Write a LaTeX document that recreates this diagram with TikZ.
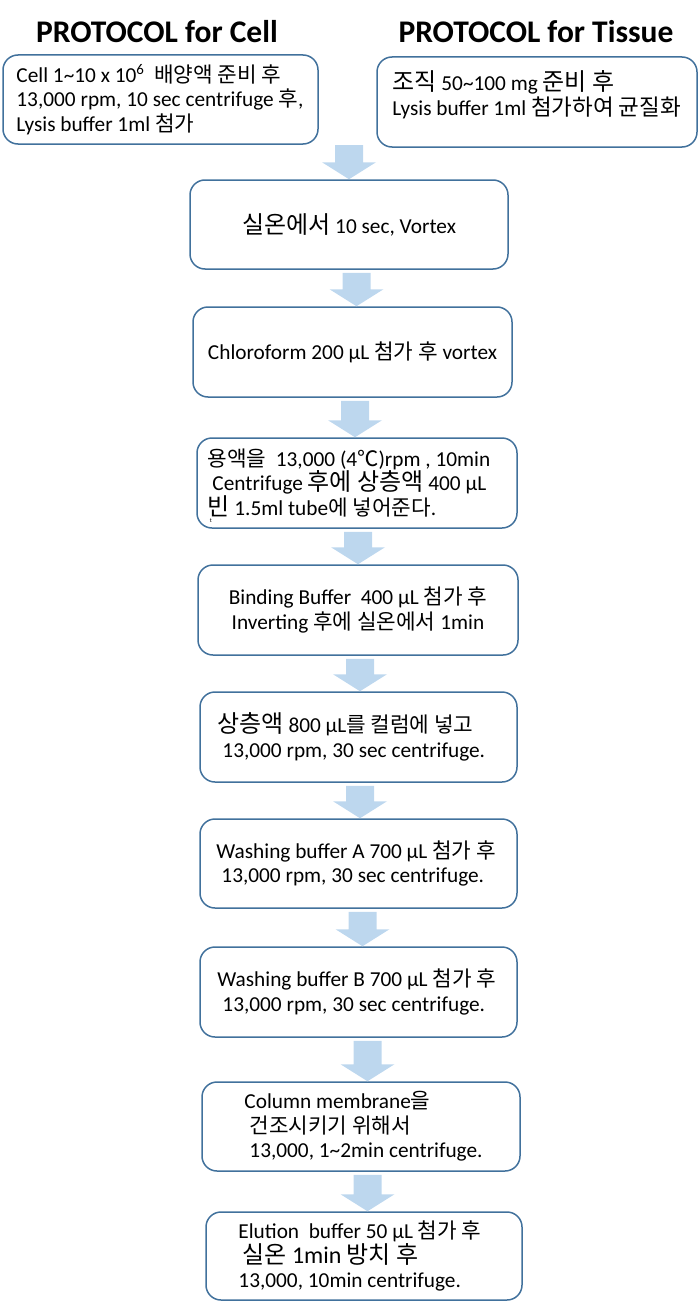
\documentclass[tikz,border=0pt]{standalone}
\usepackage{fontspec}
\setmainfont{Carlito}
\newfontfamily\krfont{Noto Sans CJK KR}[Scale=1.0]
\usetikzlibrary{positioning, calc}

\definecolor{boxblue}{HTML}{41719C}
\definecolor{arrowblue}{HTML}{BDD7EE}
\newcommand{\kor}[1]{{\krfont #1}}
\newcommand{\bigsize}{\fontsize{24}{26}\selectfont}
% block arrow from a point down to a box top
\newcommand{\blockdown}[3]{%
  \fill[flowarrow] let \p1=(#1), \p2=([xshift=#3pt]#2) in
    (\x2-14pt,\y1-3pt) -- (\x2+14pt,\y1-3pt) -- (\x2+14pt,\y2+17pt)
    -- (\x2+27pt,\y2+17pt) -- (\x2,\y2) -- (\x2-27pt,\y2+17pt)
    -- (\x2-14pt,\y2+17pt) -- cycle;}

\tikzset{
  stepbox/.style 2 args={draw=boxblue, line width=1.5pt, rounded corners=15pt,
    fill=white, inner sep=0pt, minimum width=#1pt, minimum height=#2pt},
  steptext/.style={align=left, inner sep=0pt, font=\fontsize{21.3}{24.5}\selectfont},
  titletext/.style={inner sep=0pt, font=\bfseries\fontsize{31.5}{36}\selectfont},
  flowarrow/.style={fill=arrowblue},
}

\begin{document}
\begin{tikzpicture}[x=1pt, y=-1pt]
  \useasboundingbox (0,0) rectangle (700,1303);

  \node[titletext] (celltitle) at (157,32) {PROTOCOL for Cell};
  \node[titletext] (tissuetitle) at (536,32) {PROTOCOL for Tissue};

  \node[stepbox={315}{89}] (cell) at (160.5,99.5) {};
  \node[stepbox={320}{90}] (tissue) at (537,102) {};
  \node[stepbox={318}{89}] (b1) at (349,224.5) {};
  \node[stepbox={319}{90}] (b2) at (352.5,352) {};
  \node[stepbox={320}{90}] (b3) at (357,483) {};
  \node[stepbox={320}{90}] (b4) at (358,610) {};
  \node[stepbox={317}{90}] (b5) at (358.5,737) {};
  \node[stepbox={317}{89}] (b6) at (358.5,863.5) {};
  \node[stepbox={317}{90}] (b7) at (358.5,992) {};
  \node[stepbox={318}{89}] (b8) at (361,1126.5) {};
  \node[stepbox={316}{88}] (b9) at (364,1256) {};

  \node[steptext, right=14pt of cell.west] (celltext)
    {Cell 1\textasciitilde10 x 10\textsuperscript{6}\ \ \kor{배양액 준비 후}\\
     13,000 rpm, 10 sec centrifuge \kor{후},\\
     Lysis buffer 1ml \kor{첨가}};
  \node[steptext, right=16pt of tissue.west, yshift=7.5pt] (tissuetext)
    {{\bigsize\kor{조직}} 50\textasciitilde100 mg {\bigsize\kor{준비 후}}\\
     Lysis buffer 1ml {\fontsize{22.5}{24.5}\selectfont\kor{첨가하여 균질화}}};
  \node[steptext, align=center] (t1) at (b1) {{\bigsize\kor{실온에서}} 10 sec, Vortex};
  \node[steptext, align=center] (t2) at (b2) {Chloroform 200 µL \kor{첨가 후} vortex};
  \node[steptext, right=11pt of b3.west] (t3)
    {\kor{용액을}\ \ 13,000 (4\kor{℃})rpm , 10min\\
     \hspace*{5pt}Centrifuge {\bigsize\kor{후에 상층액}} 400 µL\\
     {\bigsize\kor{빈}} 1.5ml tube\kor{에 넣어준다}.};
  \node[inner sep=0pt, font=\fontsize{6}{6}\selectfont] (t3mark) at (211,521) {t};
  \node[steptext, align=center] (t4) at (b4)
    {Binding Buffer\ \ 400 µL \kor{첨가 후}\\ Inverting \kor{후에 실온에서} 1min};
  \node[steptext, right=18pt of b5.west] (t5)
    {{\bigsize\kor{상층액}} 800 µL\kor{를 컬럼에 넣고}\\
     \hspace*{5pt}13,000 rpm, 30 sec centrifuge.};
  \node[steptext, right=17pt of b6.west] (t6)
    {Washing buffer A 700 µL \kor{첨가 후}\\
     \hspace*{5pt}13,000 rpm, 30 sec centrifuge.};
  \node[steptext, right=18pt of b7.west] (t7)
    {Washing buffer B 700 µL \kor{첨가 후}\\
     \hspace*{5pt}13,000 rpm, 30 sec centrifuge.};
  \node[steptext, right=43pt of b8.west] (t8)
    {Column membrane\kor{을}\\
     \hspace*{5pt}\kor{건조시키기 위해서}\\
     \hspace*{5pt}13,000, 1\textasciitilde2min centrifuge.};
  \node[steptext, right=33pt of b9.west] (t9)
    {Elution\ \ buffer 50 µL \kor{첨가 후}\\
     \hspace*{4pt}{\bigsize\kor{실온} 1min \kor{방치 후}}\\
     13,000, 10min centrifuge.};

  \coordinate (split) at (349,142);
  \blockdown{split}{b1.north}{0}
  \blockdown{b1.south}{b2.north}{4}
  \blockdown{b2.south}{b3.north}{-2}
  \blockdown{b3.south}{b4.north}{0}
  \blockdown{b4.south}{b5.north}{1.5}
  \blockdown{b5.south}{b6.north}{1.5}
  \blockdown{b6.south}{b7.north}{4}
  \blockdown{b7.south}{b8.north}{6.5}
  \blockdown{b8.south}{b9.north}{3.5}
\end{tikzpicture}
\end{document}
